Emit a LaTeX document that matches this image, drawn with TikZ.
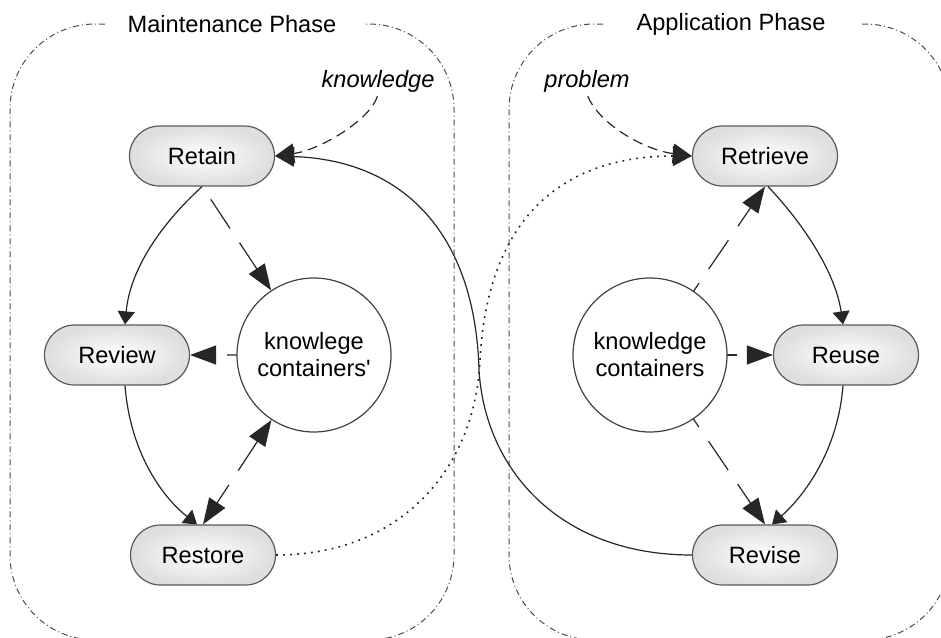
\documentclass[tikz,border=0pt]{standalone}
\usepackage{fontspec}
\setmainfont{Liberation Sans}
\usetikzlibrary{arrows.meta,shapes.misc,backgrounds}
\newcommand\diagfont{\fontsize{11.8}{13.5}\selectfont}
\tikzset{
 frame/.style={draw=black!70, line width=0.5pt, dash pattern=on 3pt off 1.5pt on 0.5pt off 1.5pt, rounded corners=42.5pt},
 conn/.style={draw=black!85, line width=0.6pt},
 ldash/.style={conn, dash pattern=on 17.5pt off 8.5pt},
 sdash/.style={conn, dash pattern=on 5pt off 3pt},
 dotline/.style={conn, line width=0.8pt, dash pattern=on 0.9pt off 2.6pt},
 bigtip/.tip={Triangle[length=13pt,width=9.5pt]},
 medtip/.tip={Triangle[length=9.5pt,width=10pt]},
 smtip/.tip={Triangle[length=6.5pt,width=8.5pt]},
 pill/.style={rounded rectangle, draw=black!65, line width=0.6pt, minimum width=72.5pt, minimum height=30pt, inner sep=0pt, inner color=white, outer color=black!13, font=\diagfont},
 circ/.style={circle, draw=black!75, fill=white, line width=0.6pt, minimum size=77pt, inner sep=0pt, align=center, font=\diagfont},
 lbl/.style={inner sep=1pt, font=\diagfont\itshape},
 ttl/.style={inner sep=1pt, font=\diagfont},
}
\begin{document}
\begin{tikzpicture}[x=0.5pt,y=-0.5pt]
\useasboundingbox (0,0) rectangle (941,637);
\clip (0,0) rectangle (941,637);
% frames
\draw[frame] (105,24) -- (10,24) -- (10,640) -- (454,640) -- (454,24) -- (365,24);
\draw[frame] (603,24) -- (509,24) -- (509,640) -- (950,640) -- (950,24) -- (860,24);
\node[ttl] (t1) at (232,24) {Maintenance Phase};
\node[ttl] (t2) at (731,24) {Application Phase};
% nodes
\node[pill] (retain) at (202,156) {Retain};
\node[pill] (review) at (117,355) {Review};
\node[pill] (restore) at (203,555) {Restore};
\node[pill] (retrieve) at (765,156) {Retrieve};
\node[pill] (reuse) at (846,355) {Reuse};
\node[pill] (revise) at (765,555) {Revise};
\node[circ] (c1) at (314,355) {knowlege\\containers\textquotesingle};
\node[circ] (c2) at (650,355) {knowledge\\containers};
\node[lbl] (kn) at (378,81) {knowledge};
\node[lbl] (pr) at (587,81) {problem};
% dashed links from/to the knowledge containers
\begin{pgfonlayer}{background}
\draw[ldash, -bigtip] ([xshift=-10pt]retain.center) -- (c1);
\draw[ldash, -bigtip] (c1.center) -- (review);
\draw[ldash, -bigtip] (c2.center) -- (retrieve.south);
\draw[ldash, -bigtip] (c2.center) -- (reuse);
\draw[ldash, -bigtip] (c2.center) -- (revise.north);
\end{pgfonlayer}
\draw[ldash, bigtip-bigtip] (c1) -- (restore.north);
% cycle arrows
\draw[conn, -smtip] (retain.south) .. controls (160,225) and (130,270) .. ([xshift=4pt]review.north);
\draw[conn, -smtip] ([xshift=4pt]review.south) .. controls (130,450) and (160,495) .. ([xshift=-3pt]restore.north);
\draw[conn, -smtip] ([xshift=1.5pt]retrieve.south) .. controls (800,220) and (835,270) .. ([xshift=-1.5pt]reuse.north);
\draw[conn, -smtip] ([xshift=-1.5pt]reuse.south) .. controls (838,450) and (805,495) .. ([xshift=3.5pt]revise.north);
% crossing links
\coordinate (m1) at (479,370);
\draw[conn, -medtip] (revise.west) .. controls (560,555) and (485,470) .. (m1) .. controls (475,230) and (400,160) .. (retain.east);
\coordinate (m2) at (480,360);
\draw[dotline, -medtip] (restore.east) .. controls (400,555) and (475,470) .. (m2) .. controls (488,210) and (570,156) .. (retrieve.west);
% inputs
\draw[sdash, -medtip, shorten <=1pt] (kn.south) .. controls (370,120) and (320,150) .. (retain.east);
\draw[sdash, -medtip, shorten <=1pt] (pr.south) .. controls (600,125) and (645,150) .. (retrieve.west);
\end{tikzpicture}
\end{document}
